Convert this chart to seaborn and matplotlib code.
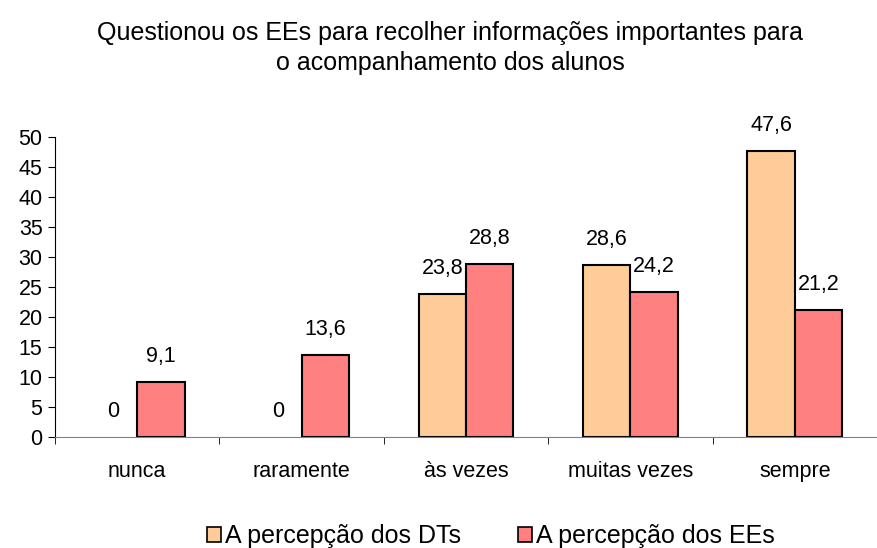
import pandas as pd
import matplotlib
matplotlib.use("Agg")
import matplotlib.pyplot as plt
import seaborn as sns

categories = ["nunca", "raramente", "às vezes", "muitas vezes", "sempre"]
series = ["A percepção dos DTs", "A percepção dos EEs"]
dts = [0, 0, 23.8, 28.6, 47.6]
ees = [9.1, 13.6, 28.8, 24.2, 21.2]
colors = ["#FFCC99", "#FF8080"]

df = pd.DataFrame({
    "categoria": categories * 2,
    "serie": [series[0]] * len(categories) + [series[1]] * len(categories),
    "valor": dts + ees,
})

sns.set_style("white")
plt.rcParams['font.family'] = ['Liberation Sans', 'DejaVu Sans']
plt.rcParams['text.color'] = 'black'
plt.rcParams['xtick.color'] = 'black'
plt.rcParams['ytick.color'] = 'black'

fig = plt.figure(figsize=(8.77, 5.48), dpi=100)
ax = fig.add_axes([55 / 877, 1 - 437 / 548, 1 - 55 / 877, (437 - 137) / 548])

sns.barplot(data=df, x="categoria", y="valor", hue="serie", order=categories,
            hue_order=series, palette=colors, saturation=1, width=0.577, gap=0,
            edgecolor="black", linewidth=1.5, ax=ax, legend=True)

# zero-height bars: no visible edge
for p in ax.patches:
    if p.get_height() == 0:
        p.set_linewidth(0)

for cont in ax.containers:
    ax.bar_label(cont, labels=[f"{v:g}".replace(".", ",") for v in cont.datavalues],
                 padding=11, fontsize=15.5)

ax.set_ylim(0, 50)
ax.set_yticks(range(0, 51, 5))
ax.set_xlim(-0.4985, 4.438)
ax.set_xticks([i + 0.5 for i in range(-1, 5)], minor=True)
ax.tick_params(axis="x", which="major", length=0, labelsize=15.5, pad=17)
ax.tick_params(axis="x", which="minor", length=5, color="black", direction="out", bottom=True)
ax.tick_params(axis="y", length=5, labelsize=15.5, direction="out", left=True, color="black", pad=4)
ax.set_xlabel("")
ax.set_ylabel("")
for s in ["top", "right"]:
    ax.spines[s].set_visible(False)
ax.spines["left"].set_color("black")
ax.spines["bottom"].set_color("#808080")

handles, labels = ax.get_legend_handles_labels()
ax.get_legend().remove()
for h in handles:
    h.set_edgecolor("black")
    h.set_linewidth(1.2)
fig.legend(handles, labels, loc="center", bbox_to_anchor=(0.56, 0.022), ncol=2,
           frameon=False, fontsize=18, handlelength=0.55, handleheight=0.55,
           handletextpad=0.15, columnspacing=2.3)

fig.suptitle("Questionou os EEs para recolher informações importantes para\no acompanhamento dos alunos",
             x=0.513, y=0.962, fontsize=18, linespacing=1.35)

fig.savefig("out.png", dpi=100)
